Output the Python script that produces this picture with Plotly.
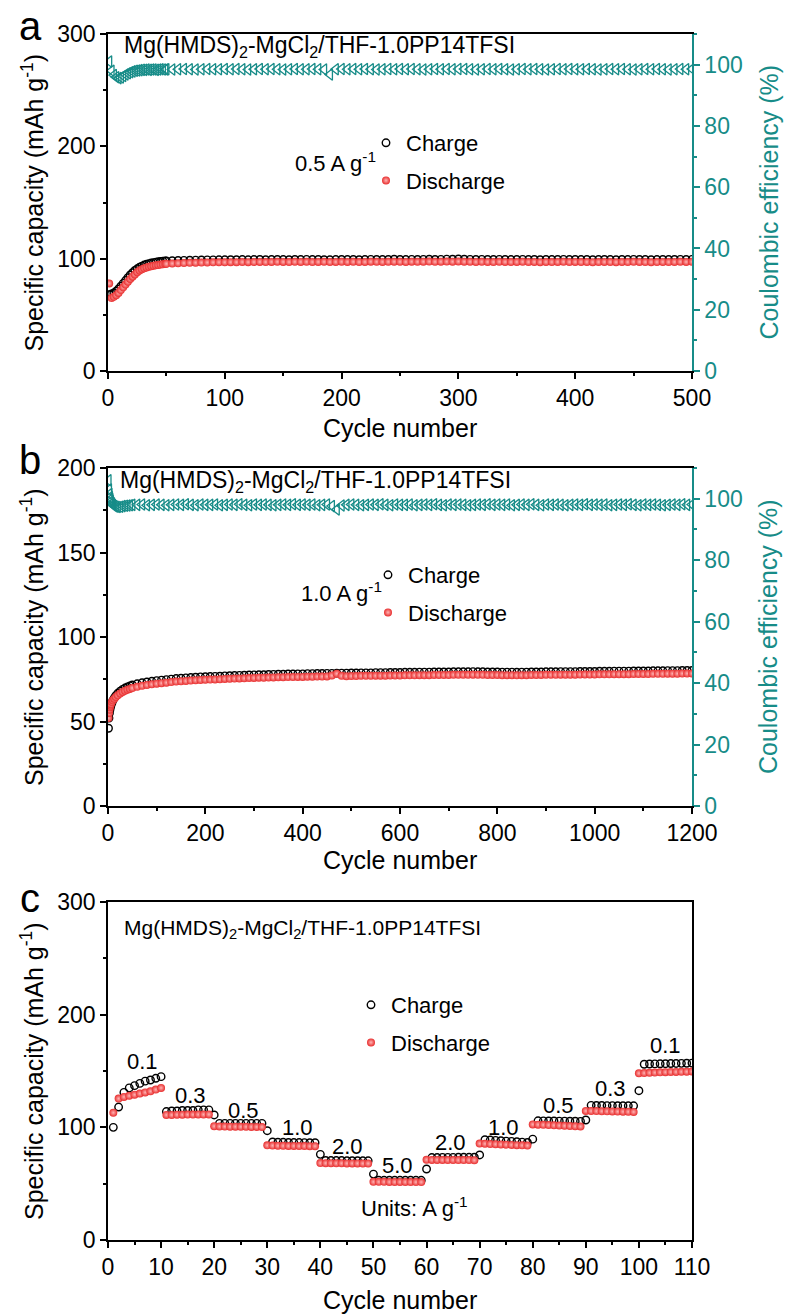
import plotly.graph_objects as go

FONT = "Arial, Liberation Sans, sans-serif"
TEAL = "#178c88"
RED = "#e82e2e"

# ---------------- Panel a (0.5 A g-1) ----------------
cycles_a = list(range(1, 50, 2)) + list(range(50, 501, 5))
charge_a = [68, 68.5, 69.5, 71, 73, 75.5, 78, 80.5, 83, 85.5, 87.5, 89.5, 91, 92.3, 93.4, 94.3, 95, 95.6, 96.1, 96.5, 96.9, 97.2, 97.5, 97.7, 97.9,
            98.0, 98.2, 98.4, 98.5, 98.6, 98.7, 98.8, 98.9, 98.9, 99.0, 99.0,
            99.1, 99.1, 99.2, 99.0, 99.2, 99.3, 99.1, 99.2, 99.3, 99.2, 99.1, 99.3, 99.2, 99.4, 99.2, 99.3, 99.1, 99.0, 99.2, 99.3,
            99.2, 99.3, 99.1, 99.2, 99.4, 99.3, 99.2, 99.3, 99.5, 99.3, 99.2, 99.4, 99.3, 99.4, 99.5, 99.3, 99.4, 99.6, 99.5, 99.7,
            99.5, 99.4, 99.3, 99.4, 99.3, 99.2, 99.4, 99.3, 99.2, 99.3, 99.4, 99.2, 99.3, 99.1, 99.3, 99.2, 99.3, 99.4, 99.2, 99.3,
            99.2, 99.3, 99.1, 99.2, 99.3, 99.2, 99.1, 99.3, 99.2, 99.4, 99.3, 99.2, 99.1, 99.2, 99.3, 99.2, 99.3, 99.4, 99.3, 99.4]
discharge_a = [78, 65, 66, 67.5, 69.5, 72, 74.5, 77, 79.5, 82, 84, 86, 88, 89.5, 90.6, 91.5, 92.2, 92.8, 93.3, 93.7, 94.1, 94.4, 94.7, 95.0, 95.2,
               95.4, 95.7, 95.9, 96.1, 96.3, 96.4, 96.5, 96.6, 96.7, 96.8, 96.8,
               96.9, 96.9, 97.0, 96.9, 97.0, 97.1, 97.0, 97.1, 97.2, 97.1, 97.0, 97.2, 97.1, 97.2, 97.0, 97.1, 97.2, 97.0, 97.1, 97.2,
               97.1, 97.2, 97.0, 97.1, 97.3, 97.2, 97.1, 97.2, 97.3, 97.2, 97.1, 97.3, 97.2, 97.3, 97.4, 97.2, 97.3, 97.4, 97.3, 97.5,
               97.3, 97.2, 97.1, 97.2, 97.1, 97.0, 97.2, 97.1, 97.0, 97.1, 97.2, 97.0, 97.1, 96.9, 97.1, 97.0, 97.1, 97.2, 97.0, 97.1,
               97.0, 97.1, 96.9, 97.0, 97.1, 97.0, 96.9, 97.1, 97.0, 97.2, 97.1, 97.0, 96.9, 97.0, 97.1, 97.0, 97.1, 97.2, 97.1, 97.2]
ce_a = [101.0, 98.0, 96.6, 95.9, 95.6, 95.8, 96.3, 96.8, 97.2, 97.5, 97.8, 98.0, 98.1, 98.2, 98.3, 98.3, 98.4, 98.3, 98.4, 98.4, 98.3, 98.4, 98.5, 98.4, 98.4,
        98.5, 98.4, 98.5, 98.6, 98.5, 98.4, 98.5, 98.6, 98.5, 98.5, 98.6,
        98.5, 98.6, 98.5, 98.4, 98.5, 98.6, 98.5, 98.6, 98.5, 98.4, 98.5, 98.6, 98.5, 98.5, 98.6, 98.5, 98.4, 96.8, 98.5, 98.6,
        98.5, 98.6, 98.5, 98.6, 98.5, 98.4, 98.5, 98.6, 98.5, 98.6, 98.5, 98.6, 98.5, 98.4, 98.5, 98.6, 98.5, 98.6, 98.5, 98.6,
        98.6, 98.5, 98.4, 98.5, 98.6, 98.5, 98.6, 98.5, 98.4, 98.5, 98.6, 98.5, 98.6, 98.5, 98.4, 98.5, 98.6, 98.5, 98.6, 98.5,
        98.5, 98.6, 98.5, 98.4, 98.5, 98.6, 98.5, 98.6, 98.5, 98.4, 98.5, 98.6, 98.5, 98.6, 98.5, 98.4, 98.5, 98.6, 98.5, 98.6]

# ---------------- Panel b (1.0 A g-1) ----------------
cycles_b = [1, 2, 3, 4, 5, 6, 8, 10, 13, 16, 20, 25, 30, 35, 40, 45, 50] + list(range(60, 1201, 10))
charge_b = [46, 52, 55, 57, 58.5, 59.5, 61, 62.5, 64, 65.3, 66.7, 68, 69, 69.8, 70.5, 71.1, 71.6,
            72.3, 72.9, 73.4, 73.8, 74.2, 74.5, 74.8, 75.1, 75.4, 75.6, 75.8, 76.0, 76.2, 76.4, 76.5,
            76.6, 76.7, 76.8, 77.0, 77.1, 77.2, 77.3, 77.4, 77.5, 77.6, 77.7, 77.7, 77.8, 77.9, 78.0, 78.0, 78.1, 78.1, 78.2, 78.2,
            78.3, 78.3, 78.4, 78.4, 78.5, 78.5, 78.6, 78.6, 78.6, 78.7, 78.7, 78.8, 78.8, 78.8, 78.9, 78.9, 78.9, 79.0, 79.0, 79.0,
            79.1, 79.1, 79.1, 79.2, 79.2, 79.2, 79.3, 79.3, 79.3, 79.3, 79.4, 79.4, 79.4, 79.4, 79.5, 79.4, 79.4, 79.3, 79.3, 79.3,
            79.2, 79.2, 79.2, 79.1, 79.2, 79.2, 79.3, 79.3, 79.3, 79.4, 79.4, 79.4, 79.5, 79.5, 79.5, 79.5, 79.6, 79.6, 79.6, 79.6,
            79.7, 79.7, 79.7, 79.8, 79.8, 79.8, 79.8, 79.9, 79.9, 79.9, 79.9, 80.0, 80.0, 80.0, 80.1, 80.1, 80.1, 80.2, 80.2, 80.2]
discharge_b = [52, 55, 57, 58.5, 59.5, 60.3, 61.5, 62.5, 63.5, 64.5, 65.5, 66.6, 67.5, 68.2, 68.8, 69.3, 69.8,
               70.5, 71.1, 71.6, 72.0, 72.4, 72.7, 73.0, 73.3, 73.6, 73.8, 74.0, 74.2, 74.4, 74.6, 74.7,
               74.8, 74.9, 75.0, 75.2, 75.3, 75.4, 75.5, 75.6, 75.7, 75.8, 75.9, 75.9, 76.0, 76.1, 76.2, 76.2, 76.3, 76.3, 76.4, 76.4,
               76.5, 76.5, 76.6, 76.6, 76.7, 77.2, 78.3, 77.0, 76.8, 76.9, 76.9, 77.0, 77.0, 77.0, 77.1, 77.1, 77.1, 77.2, 77.2, 77.2,
               77.3, 77.3, 77.3, 77.4, 77.4, 77.4, 77.5, 77.5, 77.5, 77.5, 77.6, 77.6, 77.6, 77.6, 77.7, 77.6, 77.6, 77.5, 77.5, 77.5,
               77.4, 77.4, 77.4, 77.3, 77.4, 77.4, 77.5, 77.5, 77.5, 77.6, 77.6, 77.6, 77.7, 77.7, 77.7, 77.7, 77.8, 77.8, 77.8, 77.8,
               77.9, 77.9, 77.9, 78.0, 78.0, 78.0, 78.0, 78.1, 78.1, 78.1, 78.1, 78.2, 78.2, 78.2, 78.3, 78.3, 78.3, 78.4, 78.4, 78.4]
ce_b = [106.0, 103.0, 101.5, 100.5, 99.8, 99.2, 98.5, 98.0, 97.6, 97.4, 97.3, 97.4, 97.6, 97.7, 97.8, 97.9, 98.0,
        98.0, 98.1, 97.9, 98.0, 98.1, 98.0, 97.9, 98.0, 98.1, 98.0, 98.2, 98.0, 97.9, 98.1, 98.0,
        98.0, 98.1, 97.9, 98.0, 98.1, 98.0, 98.2, 98.0, 97.9, 98.1, 98.0, 98.1, 98.0, 97.9, 98.0, 98.1, 98.0, 98.2, 98.0, 98.1,
        98.0, 98.1, 97.9, 98.0, 98.1, 97.6, 96.5, 97.8, 98.0, 98.1, 98.0, 97.9, 98.0, 98.1, 98.0, 98.2, 98.0, 97.9, 98.1, 98.0,
        98.0, 98.1, 97.9, 98.0, 98.1, 98.0, 98.2, 98.0, 97.9, 98.1, 98.0, 98.1, 98.0, 97.9, 98.0, 98.1, 98.0, 98.2, 98.0, 98.1,
        98.0, 98.1, 97.9, 98.0, 98.1, 98.0, 98.2, 98.0, 97.9, 98.1, 98.0, 98.1, 98.0, 97.9, 98.0, 98.1, 98.0, 98.2, 98.0, 98.1,
        98.0, 98.1, 97.9, 98.0, 98.1, 98.0, 98.2, 98.0, 97.9, 98.1, 98.0, 98.1, 98.0, 97.9, 98.0, 98.1, 98.0, 98.2, 98.0, 98.1]

# ---------------- Panel c (rate capability) ----------------
cycles_c = list(range(1, 111))
charge_c = [100, 118, 131, 135, 137, 139, 141, 142, 143.5, 145,
            114, 114.5, 114.5, 115, 115, 115, 115.5, 115.5, 115.5, 111,
            103.5, 103.5, 103.5, 103.5, 103.5, 103.5, 103.5, 103.5, 103.5, 97,
            87, 86.8, 86.7, 86.6, 86.5, 86.5, 86.4, 86.3, 86.3, 76,
            70.6, 70.5, 70.5, 70.5, 70.4, 70.4, 70.4, 70.3, 70.3, 58.5,
            53, 53, 53, 53, 53, 53, 53, 53, 53, 63,
            73.2, 73.2, 73.3, 73.3, 73.3, 73.4, 73.4, 73.4, 73.5, 75.5,
            89, 88.7, 88.4, 88.1, 87.8, 87.5, 87.2, 86.9, 86.6, 89.5,
            105.8, 105.7, 105.6, 105.6, 105.5, 105.5, 105.4, 105.4, 105.3, 106.5,
            119.5, 119.4, 119.4, 119.3, 119.3, 119.2, 119.2, 119.1, 119.1, 132.5,
            156, 156.2, 156.3, 156.4, 156.5, 156.6, 156.7, 156.8, 156.9, 157]
discharge_c = [113, 125.5, 127, 128, 129, 130, 131, 132, 133.5, 135,
               111, 111, 111.2, 111.2, 111.3, 111.3, 111.4, 111.4, 111.5, 101,
               100.8, 100.7, 100.6, 100.6, 100.5, 100.5, 100.4, 100.4, 100.3, 84,
               83.8, 83.7, 83.6, 83.5, 83.5, 83.4, 83.4, 83.3, 83.3, 68.3,
               68.2, 68.2, 68.1, 68.1, 68.0, 68.0, 68.0, 67.9, 67.9, 51.6,
               51.6, 51.6, 51.5, 51.5, 51.5, 51.5, 51.4, 51.4, 51.4, 71.2,
               71.1, 71.1, 71.0, 71.0, 71.0, 70.9, 70.9, 70.9, 70.8, 85.6,
               85.4, 85.2, 85.0, 84.8, 84.6, 84.4, 84.2, 84.0, 83.8, 102.6,
               102.4, 102.2, 102.0, 101.8, 101.6, 101.4, 101.2, 101.0, 100.8, 114.6,
               114.5, 114.4, 114.3, 114.2, 114.1, 114.0, 113.9, 113.8, 113.7, 148.0,
               148.2, 148.4, 148.6, 148.8, 149.0, 149.1, 149.2, 149.3, 149.4, 149.5]
rate_labels = ["0.1", "0.3", "0.5", "1.0", "2.0", "5.0", "2.0", "1.0", "0.5", "0.3", "0.1"]

W, H = 789, 1316
XD = [108 / W, 692 / W]


def py(px):
    return 1 - px / H


DOM_A = [py(371), py(34)]
DOM_B = [py(806), py(468)]
DOM_C = [py(1240), py(902)]

charge_marker = dict(symbol="circle-open", size=7.5, color="black", line=dict(width=1.4, color="black"))
dis_marker = dict(symbol="circle", size=8, color=RED, line=dict(width=0),
                  gradient=dict(type="radial", color="#ffb4b4"))
ce_marker = dict(symbol="triangle-left-open", size=10, color=TEAL, line=dict(width=1.3, color=TEAL))

fig = go.Figure()
# Panel a
fig.add_trace(go.Scatter(x=cycles_a, y=ce_a, mode="markers", marker=ce_marker, xaxis="x", yaxis="y4", showlegend=False))
fig.add_trace(go.Scatter(x=cycles_a, y=charge_a, mode="markers", marker=charge_marker, xaxis="x", yaxis="y",
                         name="Charge", legend="legend", legendgroup="ca"))
fig.add_trace(go.Scatter(x=cycles_a, y=discharge_a, mode="markers", marker=dis_marker, xaxis="x", yaxis="y",
                         name="Discharge", legend="legend", legendgroup="da"))
# Panel b
fig.add_trace(go.Scatter(x=cycles_b, y=ce_b, mode="markers", marker=ce_marker, xaxis="x2", yaxis="y5", showlegend=False))
fig.add_trace(go.Scatter(x=cycles_b, y=charge_b, mode="markers", marker=charge_marker, xaxis="x2", yaxis="y2",
                         name="Charge", legend="legend2", legendgroup="cb"))
fig.add_trace(go.Scatter(x=cycles_b, y=discharge_b, mode="markers", marker=dis_marker, xaxis="x2", yaxis="y2",
                         name="Discharge", legend="legend2", legendgroup="db"))
# Panel c
fig.add_trace(go.Scatter(x=cycles_c, y=charge_c, mode="markers", marker=charge_marker, xaxis="x3", yaxis="y3",
                         name="Charge", legend="legend3", legendgroup="cc"))
fig.add_trace(go.Scatter(x=cycles_c, y=discharge_c, mode="markers", marker=dis_marker, xaxis="x3", yaxis="y3",
                         name="Discharge", legend="legend3", legendgroup="dc"))

TF = dict(size=23, family=FONT, color="black")


def ax(**kw):
    d = dict(showline=True, linecolor="black", linewidth=1.5, ticks="outside", ticklen=6, tickwidth=1.5,
             tickcolor="black", showgrid=False, zeroline=False, tickfont=TF,
             minor=dict(ticks="outside", ticklen=3, tickwidth=1.5, tickcolor="black"))
    minor = kw.pop("minor_dtick", None)
    d.update(kw)
    if minor is not None:
        d["minor"] = dict(d["minor"], dtick=minor)
    return d


def rax(**kw):
    d = dict(showline=True, linecolor=TEAL, linewidth=1.5, ticks="outside", ticklen=6, tickwidth=1.5,
             tickcolor=TEAL, showgrid=False, zeroline=False, tickfont=dict(size=23, family=FONT, color=TEAL),
             side="right", range=[0, 110], dtick=20, tick0=0,
             minor=dict(ticks="outside", ticklen=3, tickwidth=1.5, tickcolor=TEAL, dtick=10))
    d.update(kw)
    return d


leg = dict(font=dict(size=22, family=FONT, color="black"), bgcolor="rgba(0,0,0,0)", borderwidth=0,
           tracegroupgap=6, xanchor="left", yanchor="top", itemwidth=30)

fig.update_layout(
    width=W, height=H, margin=dict(l=0, r=0, t=0, b=0, autoexpand=False),
    paper_bgcolor="white", plot_bgcolor="white",
    font=dict(family=FONT, size=22, color="black"),
    xaxis=ax(domain=XD, anchor="y", range=[0, 500], dtick=100, tick0=0, minor_dtick=50, mirror=True),
    yaxis=ax(domain=DOM_A, anchor="x", range=[0, 300], dtick=100, tick0=0, minor_dtick=50),
    xaxis2=ax(domain=XD, anchor="y2", range=[0, 1200], dtick=200, tick0=0, minor_dtick=100, mirror=True),
    yaxis2=ax(domain=DOM_B, anchor="x2", range=[0, 200], dtick=50, tick0=0, minor_dtick=25),
    xaxis3=ax(domain=XD, anchor="y3", range=[0, 110], dtick=10, tick0=0, minor_dtick=5, mirror=True),
    yaxis3=ax(domain=DOM_C, anchor="x3", range=[0, 300], dtick=100, tick0=0, minor_dtick=50, mirror=True),
    yaxis4=rax(overlaying="y", anchor="x"),
    yaxis5=rax(overlaying="y2", anchor="x2"),
    legend=dict(leg, x=366 / W, y=py(122)),
    legend2=dict(leg, x=368 / W, y=py(554)),
    legend3=dict(leg, x=351 / W, y=py(984)),
)

ann = []


def text(x, y, s, size=22, color="black", xanchor="center", yanchor="middle", angle=0):
    ann.append(dict(x=x / W, y=py(y), xref="paper", yref="paper", text=s, showarrow=False,
                    font=dict(size=size, family=FONT, color=color), xanchor=xanchor, yanchor=yanchor,
                    textangle=angle))


# Panel letters
text(30, 26, "a", size=40)
text(30, 460, "b", size=40)
text(30, 898, "c", size=40)

# Titles inside panels
title_txt = "Mg(HMDS)<sub>2</sub>-MgCl<sub>2</sub>/THF-1.0PP14TFSI"
text(122, 47, title_txt, size=23, xanchor="left")
text(118, 481, title_txt, size=23, xanchor="left")
text(122, 929, title_txt, size=21, xanchor="left")

# Current densities
text(335, 162, "0.5 A g<sup>-1</sup>", size=22)
text(341, 592, "1.0 A g<sup>-1</sup>", size=22)

# Rate labels in panel c
rate_pos = [(142, 1061), (190, 1095), (243, 1110), (297, 1127), (347, 1146), (398, 1165),
            (450, 1142), (503, 1127), (558, 1105), (610, 1088), (665, 1045)]
for lab, (xx, yy) in zip(rate_labels, rate_pos):
    text(xx, yy, lab, size=22)
text(414, 1207, "Units: A g<sup>-1</sup>", size=22)

# Axis titles
ytitle = "Specific capacity (mAh g<sup>-1</sup>)"
for (top, bot) in [(34, 371), (468, 806), (902, 1240)]:
    text(32, (top + bot) / 2, ytitle, size=25, angle=-90)
for (top, bot) in [(34, 371), (468, 806)]:
    text(768, (top + bot) / 2, "Coulombic efficiency (%)", size=25, color=TEAL, angle=-90)
for yy in [428, 860, 1300]:
    text(400, yy, "Cycle number", size=25)

fig.update_layout(annotations=ann)
fig.write_html("out.html")
